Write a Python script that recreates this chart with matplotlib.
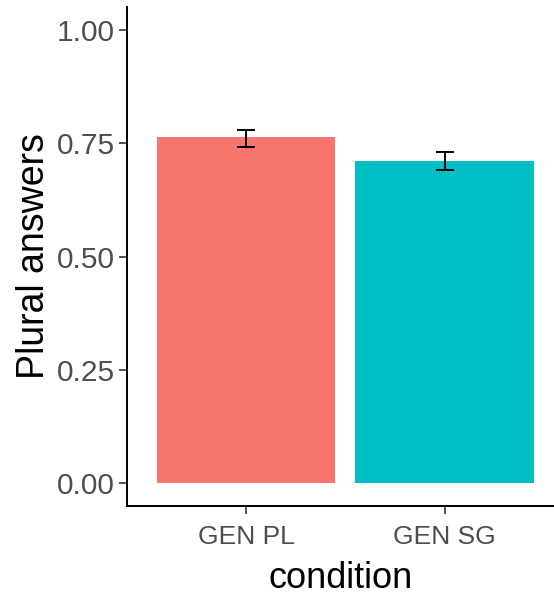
import matplotlib
matplotlib.use("Agg")
import matplotlib.pyplot as plt

conditions = ["GEN PL", "GEN SG"]
means = [0.764, 0.711]
err_low = [0.742, 0.690]
err_high = [0.779, 0.730]
colors = ["#F8766D", "#00BFC4"]
yticks = [0.00, 0.25, 0.50, 0.75, 1.00]
ytick_labels = ["0.00", "0.25", "0.50", "0.75", "1.00"]

plt.rcParams['font.family'] = ['Liberation Sans', 'DejaVu Sans']

fig = plt.figure(figsize=(5.54, 5.96), dpi=100)
ax = fig.add_axes([127/554, 90/596, (554-127)/554, (506-7)/596])

x = [1, 2]
ax.bar(x, means, width=0.9, color=colors, zorder=2)
yerr = [[m - l for m, l in zip(means, err_low)], [h - m for m, h in zip(means, err_high)]]
ax.errorbar(x, means, yerr=yerr, fmt='none', ecolor='black', elinewidth=1.4,
            capsize=6.5, capthick=1.4, zorder=3)

ax.set_xlim(0.4, 2 + (554 - 445) / 198)
ax.set_ylim(-0.05, 1.05)
ax.set_xticks(x)
ax.set_xticklabels(conditions)
ax.set_yticks(yticks)
ax.set_yticklabels(ytick_labels)
ax.tick_params(axis='y', labelsize=21.5, colors='#333333', labelcolor='#4D4D4D', length=5.5, width=1.2, pad=3)
ax.tick_params(axis='x', labelsize=19, colors='#333333', labelcolor='#4D4D4D', length=5.5, width=1.2, pad=8)
for s in ['top', 'right']:
    ax.spines[s].set_visible(False)
for s in ['left', 'bottom']:
    ax.spines[s].set_linewidth(1.4)
    ax.spines[s].set_color('black')

ax.set_ylabel("Plural answers", fontsize=27, color='black', labelpad=4)
ax.set_xlabel("condition", fontsize=26, color='black', labelpad=9)

fig.savefig("out.png", dpi=100)
